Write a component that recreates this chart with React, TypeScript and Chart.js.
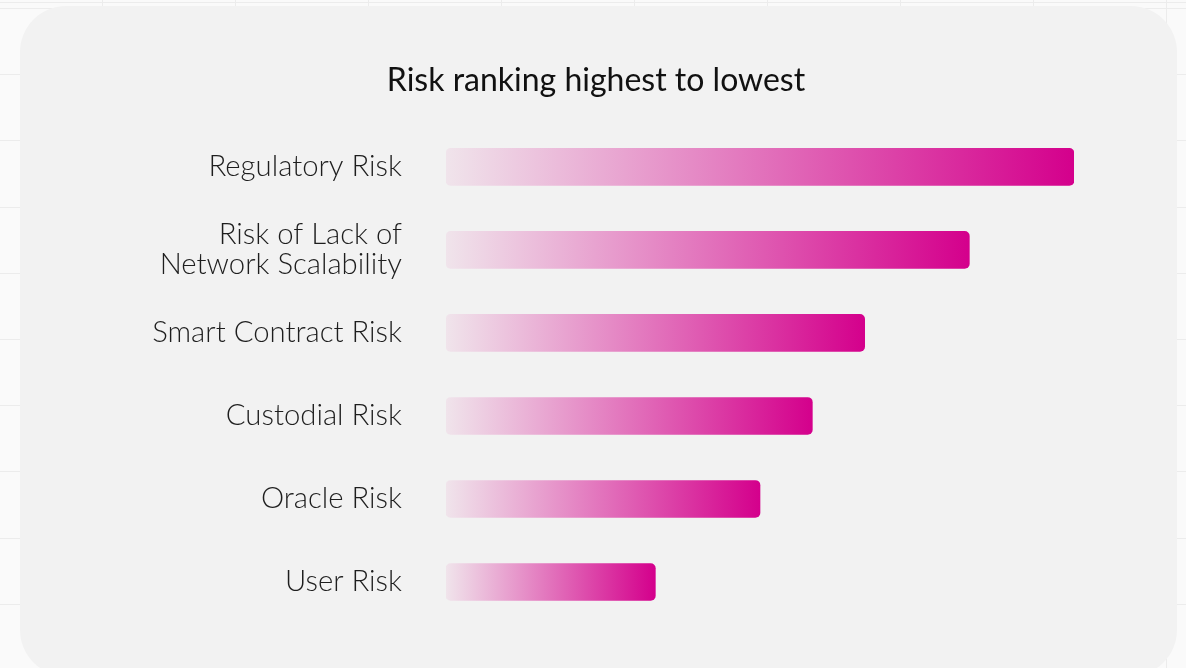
import React, { useEffect, useRef } from "react";
import { Chart, registerables } from "chart.js";

Chart.register(...registerables);

const TITLE = "Risk ranking highest to lowest";
const categories: (string | string[])[] = [
  "Regulatory Risk",
  ["Risk of Lack of", "Network Scalability"],
  "Smart Contract Risk",
  "Custodial Risk",
  "Oracle Risk",
  "User Risk",
];
const riskScores = [6, 5, 4, 3.5, 3, 2];
const axisMin = 0;
const axisMax = 6;

const START_COLOR = "#f0e4eb";
const END_COLOR = "#d4008c";

export default function App() {
  const canvasRef = useRef<HTMLCanvasElement | null>(null);

  useEffect(() => {
    const canvas = canvasRef.current;
    if (!canvas) return;
    const chart = new Chart(canvas, {
      type: "bar",
      data: {
        labels: categories,
        datasets: [
          {
            data: riskScores,
            barThickness: 37,
            borderRadius: 5,
            borderSkipped: false,
            backgroundColor: (ctx: any) => {
              const c = ctx.chart;
              if (!c.chartArea || ctx.type !== "data") return END_COLOR;
              const xs = c.scales.x;
              const x0 = xs.getPixelForValue(0);
              const x1 = xs.getPixelForValue(ctx.raw as number);
              if (!isFinite(x0) || !isFinite(x1) || x1 <= x0) return END_COLOR;
              const g = c.ctx.createLinearGradient(x0, 0, x1, 0);
              g.addColorStop(0, START_COLOR);
              g.addColorStop(1, END_COLOR);
              return g;
            },
          },
        ],
      },
      options: {
        indexAxis: "y",
        animation: false,
        responsive: true,
        maintainAspectRatio: false,
        layout: { padding: { left: 118, right: 112, top: 0, bottom: 44.5 } },
        plugins: {
          legend: { display: false },
          tooltip: { enabled: false },
          title: {
            display: true,
            text: TITLE,
            color: "#111111",
            font: { family: "Lato", size: 32, weight: "normal", lineHeight: 1.2 },
            padding: { top: 61, bottom: 26 },
          },
        },
        scales: {
          x: {
            display: false,
            min: axisMin,
            max: axisMax,
          },
          y: {
            grid: { display: false, drawTicks: false },
            border: { display: false },
            afterFit: (s: any) => {
              s.width = 328;
              s.paddingTop = 0;
              s.paddingBottom = 0;
            },
            ticks: {
              padding: 44,
              color: "#1e1e1e",
              font: { family: "Lato", size: 29.3, weight: 300, lineHeight: 1.02 },
            },
          },
        },
      },
    });
    return () => chart.destroy();
  }, []);

  return (
    <div>
      <div
        style={{
          position: "fixed",
          left: 0,
          top: 0,
          width: 1186,
          height: 668,
          backgroundColor: "#fafafa",
          backgroundImage:
            "repeating-linear-gradient(to right, transparent 0px, transparent 102px, #ececec 102px, #ececec 103px, transparent 103px, transparent 133px), repeating-linear-gradient(to bottom, #ececec 0px, #ececec 1px, transparent 1px, transparent 66.2px)",
          backgroundPosition: "0px 0px, 0px 8px",
        }}
      />
      <div
        style={{
          position: "fixed",
          left: 20,
          top: 6,
          width: 1157,
          height: 670,
          borderRadius: 46,
          background: "#f2f2f2",
        }}
      />
      <div style={{ position: "fixed", left: 0, top: 0, width: 1186, height: 668 }}>
        <canvas ref={canvasRef} />
      </div>
    </div>
  );
}
